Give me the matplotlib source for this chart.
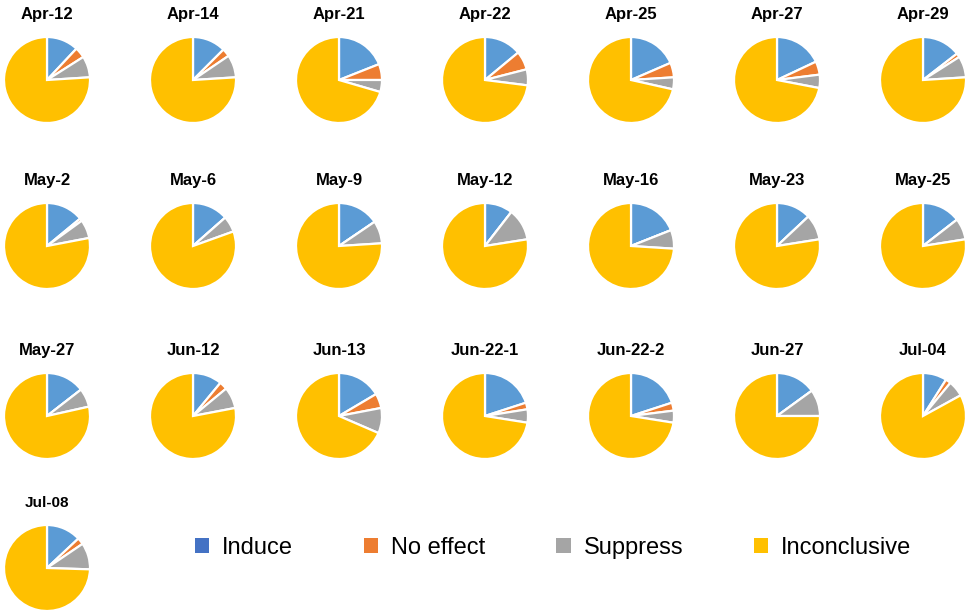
import matplotlib.pyplot as plt
from matplotlib.patches import Patch

plt.rcParams['font.family'] = ['Liberation Sans', 'DejaVu Sans']

dates = ['Apr-12', 'Apr-14', 'Apr-21', 'Apr-22', 'Apr-25', 'Apr-27', 'Apr-29',
         'May-2', 'May-6', 'May-9', 'May-12', 'May-16', 'May-23', 'May-25',
         'May-27', 'Jun-12', 'Jun-13', 'Jun-22-1', 'Jun-22-2', 'Jun-27', 'Jul-04',
         'Jul-08']
induce = [12, 12.5, 19, 14, 18.5, 18, 14.5,
          14, 13.5, 15.5, 10.5, 19, 13, 14.5,
          14.5, 11, 16.5, 20, 20, 15, 9,
          13]
no_effect = [4, 3, 6, 7, 5.5, 5, 1.5,
             1, 0, 0, 0, 0, 0, 0,
             0, 3, 5.5, 2.5, 3, 0, 2,
             2.5]
suppress = [8, 8.5, 4.5, 6, 4.5, 5, 8,
            7, 6, 8.5, 12, 7, 9.5, 8,
            7, 8, 9.5, 5, 4.5, 10, 6,
            10]
inconclusive = [76, 76, 70.5, 73, 71.5, 72, 76,
                78, 80.5, 76, 77.5, 74, 77.5, 77.5,
                78.5, 78, 68.5, 72.5, 72.5, 75, 83,
                74.5]
categories = ['Induce', 'No effect', 'Suppress', 'Inconclusive']

pie_colors = ['#5B9BD5', '#ED7D31', '#A5A5A5', '#FFC000']
legend_colors = ['#4472C4', '#ED7D31', '#A5A5A5', '#FFC000']

W, H = 969, 613
fig = plt.figure(figsize=(W / 100, H / 100), dpi=100)

# layout in pixels
col_x = [47 + 146 * i for i in range(7)]
row_y = [80, 246, 416, 568]
r = 43
lim = 1.1
s = 2 * r * lim

for i, name in enumerate(dates):
    cx = col_x[i % 7]
    cy = row_y[i // 7]
    ax = fig.add_axes([(cx - s / 2) / W, 1 - (cy + s / 2) / H, s / W, s / H])
    vals = [induce[i], no_effect[i], suppress[i], inconclusive[i]]
    ax.pie(vals, colors=pie_colors, startangle=90, counterclock=False,
           wedgeprops=dict(edgecolor='white', linewidth=1.6))
    ax.set_xlim(-lim, lim)
    ax.set_ylim(-lim, lim)
    ax.set_aspect('equal')
    ax.set_title(name, fontsize=12 if name != 'Jul-08' else 11,
                 fontweight='bold', pad=10)

handles = [Patch(facecolor=c, edgecolor='none') for c in legend_colors]
fig.legend(handles, categories, loc='center', bbox_to_anchor=(0.571, 0.106),
           ncol=4, frameon=False, fontsize=17, handlelength=0.6,
           handleheight=0.6, handletextpad=0.55, columnspacing=3.0)

fig.savefig('out.png', dpi=100)
